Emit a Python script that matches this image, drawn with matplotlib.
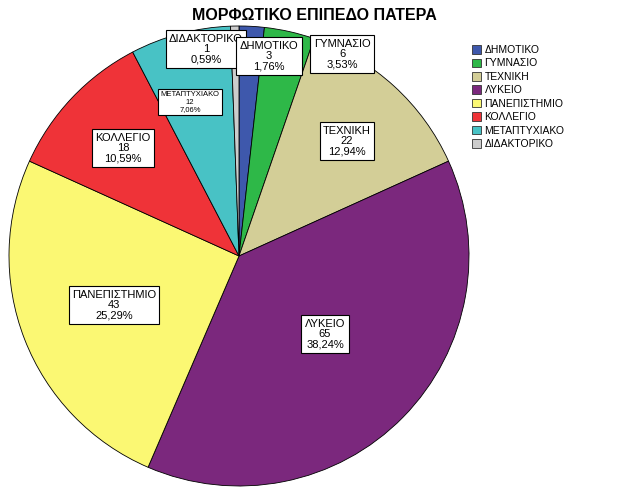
import matplotlib
matplotlib.use("Agg")
import matplotlib.pyplot as plt
from matplotlib.patches import Patch

plt.rcParams["font.family"] = ["Liberation Sans", "DejaVu Sans"]

title = "ΜΟΡΦΩΤΙΚΟ ΕΠΙΠΕΔΟ ΠΑΤΕΡΑ"
categories = ["ΔΗΜΟΤΙΚΟ", "ΓΥΜΝΑΣΙΟ", "ΤΕΧΝΙΚΗ", "ΛΥΚΕΙΟ",
              "ΠΑΝΕΠΙΣΤΗΜΙΟ", "ΚΟΛΛΕΓΙΟ", "ΜΕΤΑΠΤΥΧΙΑΚΟ", "ΔΙΔΑΚΤΟΡΙΚΟ"]
counts = [3, 6, 22, 65, 43, 18, 12, 1]
colors = ["#3E58AC", "#2EB848", "#D3CE97", "#7B287D",
          "#FBF873", "#EF3338", "#48C2C5", "#CCCCCC"]

# label box centres in pixels (layout only), font sizes, stacking order
label_pos = [(269, 56), (342, 54), (347, 141), (325, 334),
             (114, 305), (123, 148), (190, 102), (206, 49)]
label_size = [8, 8, 8, 8, 8, 8, 5.5, 8]
label_z = [6, 6, 6, 6, 6, 6, 6, 5]

W, H = 629, 504
fig = plt.figure(figsize=(W / 100, H / 100), dpi=100)
ax = fig.add_axes([0, 0, 1, 1])

# pie centre / radius in pixel coords
cx, cy, r = 239, 256, 230
ax.pie(counts, colors=colors, startangle=-90, counterclock=True,
       center=(cx, cy), radius=r,
       wedgeprops=dict(edgecolor="black", linewidth=0.6))
ax.set_xlim(0, W)
ax.set_ylim(H, 0)
ax.set_aspect("equal")
ax.axis("off")

total = sum(counts)
for name, n, (x, y), fs, z in zip(categories, counts, label_pos, label_size, label_z):
    pct = f"{100 * n / total:.2f}".replace(".", ",") + "%"
    ax.text(x, y, f"{name}\n{n}\n{pct}", ha="center", va="center",
            fontsize=fs, linespacing=1.05, zorder=z,
            bbox=dict(boxstyle="square,pad=0.3", facecolor="white",
                      edgecolor="black", linewidth=0.8))

ax.text(314, 15, title, ha="center", va="center", fontsize=11.5,
        fontweight="bold")

handles = [Patch(facecolor=c, edgecolor="#333333", linewidth=0.6) for c in colors]
ax.legend(handles, categories, loc="upper left",
          bbox_to_anchor=(472 / W, 1 - 45 / H), bbox_transform=fig.transFigure,
          frameon=False, fontsize=7.5, handlelength=0.9, handleheight=0.9,
          handletextpad=0.3, labelspacing=0.33, borderpad=0, borderaxespad=0)

fig.savefig("out.png", dpi=100)
